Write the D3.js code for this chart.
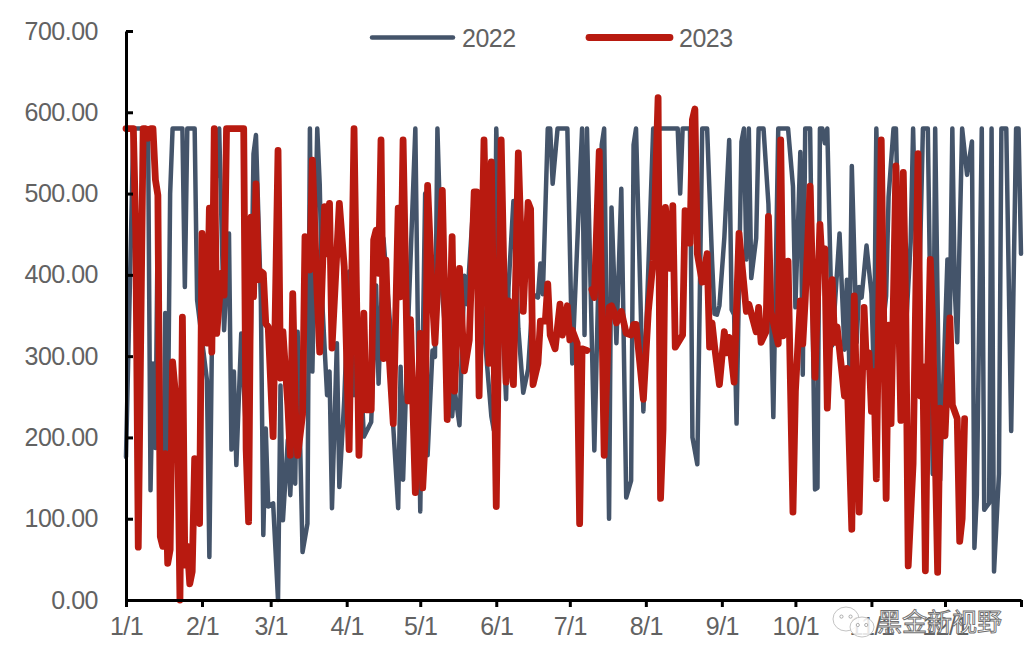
<!DOCTYPE html>
<html>
<head>
<meta charset="utf-8">
<script src="https://cdn.jsdelivr.net/npm/d3@7"></script>
<style>
  html, body { margin: 0; padding: 0; background: #fff; }
  svg { display: block; }
  text { font-family: "Liberation Sans", Arial, sans-serif; }
</style>
</head>
<body>
<div id="chart"></div>
<script>
const width = 1036;
const height = 667;
const margin = { top: 31, right: 15, bottom: 67, left: 126 };

const seriesNames = ["2022", "2023"];
const yTicks = [0, 100, 200, 300, 400, 500, 600, 700];
const xTickDays = [0, 31, 59, 90, 120, 151, 181, 212, 243, 273, 304, 334, 365];
const xTickLabels = ["1/1", "2/1", "3/1", "4/1", "5/1", "6/1", "7/1", "8/1", "9/1", "10/1", "11/1", "12/1", ""];

// days since 1/1
const days2022 = [0,2,3,9,10,11,12,13,14,15,16,17,18,19,23,24,25,28,29,33,34,35,36,38,40,42,43,44,45,47,50,52,53,55,56,57,58,60,62,63,64,66,67,68,69,70,72,74,75,76,78,79,80,82,83,84,86,87,89,91,93,95,97,100,102,103,105,108,109,111,112,113,115,118,120,122,123,125,126,127,129,133,134,136,138,139,142,146,149,150,151,153,155,156,158,160,162,164,166,168,169,170,172,173,174,176,180,182,186,187,188,191,194,195,197,198,200,202,204,206,207,208,211,215,216,219,220,225,226,227,230,231,233,235,237,239,240,241,242,244,246,247,248,249,251,252,253,254,255,257,258,260,262,263,264,266,270,272,273,275,276,277,279,281,282,283,284,285,286,288,291,293,294,295,296,298,299,300,302,304,305,306,308,310,311,313,314,316,317,320,321,323,325,327,329,330,332,335,336,337,338,339,341,343,345,346,347,349,350,352,353,354,356,357,359,361,363,364,365];
const values2022 = [176,443,580,580,135,291,187,480,82,70,353,184,500,580,580,385,580,580,369,271,53,307,492,580,332,451,185,281,166,328,139,549,572,369,80,211,115,119,0,264,98,197,129,205,143,330,59,94,580,281,580,512,369,252,281,113,316,139,246,404,252,328,201,219,387,266,445,328,213,113,287,148,334,580,109,500,178,307,299,580,376,226,259,215,399,364,502,334,226,209,580,376,247,385,491,334,255,284,376,372,414,376,580,580,512,580,580,291,580,326,580,184,560,580,100,483,316,506,126,147,560,580,232,580,580,580,580,580,500,580,580,200,167,580,580,418,352,351,362,445,566,357,351,217,564,580,419,580,396,445,580,580,487,360,225,580,580,509,360,551,277,580,580,136,138,580,580,562,580,313,451,308,394,287,534,317,385,372,436,377,274,580,317,374,496,580,580,317,274,440,580,317,580,580,155,580,147,419,347,580,381,317,580,523,564,64,130,580,111,119,580,35,155,580,580,208,580,580,426];

const days2023 = [0,2,3,4,5,7,8,9,10,11,12,13,14,15,16,17,18,19,21,22,23,24,25,26,27,28,30,31,33,34,35,36,37,39,40,41,48,49,50,51,52,53,54,55,56,57,58,60,62,63,64,66,67,68,69,70,72,73,75,76,78,79,81,82,83,84,87,89,91,93,95,97,98,100,101,102,103,104,105,106,107,109,111,112,113,115,116,118,120,121,122,123,125,126,129,131,133,134,136,138,140,142,143,144,146,148,149,151,153,155,156,158,160,162,164,165,166,168,169,171,172,173,175,177,178,180,181,182,184,185,186,188,189,190,191,193,195,197,198,199,200,202,204,206,207,208,211,213,215,217,218,219,220,222,223,224,227,228,230,231,232,233,235,237,238,239,240,242,244,245,246,248,250,253,254,257,258,259,261,262,263,266,267,268,270,272,273,275,276,277,279,281,283,284,285,286,288,289,290,293,294,296,297,299,301,302,303,304,305,306,308,310,311,312,314,316,317,318,319,321,323,324,325,326,327,328,329,331,332,334,336,337,339,340,341,342];
const values2023 = [580,580,580,451,65,580,580,568,580,580,517,498,78,66,180,45,62,293,225,0,348,43,66,20,35,174,94,451,316,482,305,580,328,402,375,580,580,185,96,471,373,512,394,404,402,340,336,201,553,273,330,240,178,377,238,178,228,447,406,541,373,305,484,426,488,310,488,410,185,580,178,353,234,234,443,455,402,566,297,418,316,217,482,373,566,245,345,132,328,138,196,510,368,316,504,222,447,257,408,282,320,502,502,251,566,291,539,115,566,268,368,265,550,355,489,481,265,291,343,343,389,326,309,364,326,362,320,332,316,94,309,307,null,382,372,552,178,360,362,355,341,355,328,326,339,339,247,355,418,618,125,209,483,408,485,311,326,479,439,591,604,426,391,426,311,341,313,265,330,304,323,268,451,355,364,330,360,317,330,472,355,315,566,325,417,108,257,368,315,370,509,274,462,406,432,236,394,317,336,251,285,87,374,108,360,287,304,232,281,149,566,125,338,217,534,221,526,360,42,168,549,251,287,36,287,419,338,34,236,202,347,240,223,72,100,223];

const svg = d3.select("#chart")
  .append("svg")
  .attr("width", width)
  .attr("height", height);

const x = d3.scaleLinear()
  .domain([0, 365])
  .range([margin.left, width - margin.right]);

const y = d3.scaleLinear()
  .domain([0, 700])
  .range([height - margin.bottom, margin.top]);

const color = d3.scaleOrdinal()
  .domain(seriesNames)
  .range(["#44546A", "#B81A10"]);

const strokeWidth = { "2022": 4.5, "2023": 6.8 };

function drawSeries(name, days, values) {
  const line = d3.line()
    .defined((d, i) => values[i] !== null)
    .x((d, i) => x(days[i]))
    .y((d, i) => y(values[i]));

  svg.append("path")
    .attr("d", line(days))
    .attr("fill", "none")
    .attr("stroke", color(name))
    .attr("stroke-width", strokeWidth[name])
    .attr("stroke-linejoin", "round")
    .attr("stroke-linecap", "round");
}

drawSeries("2022", days2022, values2022);
drawSeries("2023", days2023, values2023);

const xAxis = d3.axisBottom(x)
  .tickValues(xTickDays)
  .tickFormat((d, i) => xTickLabels[i])
  .tickSizeOuter(0)
  .tickSizeInner(7)
  .tickPadding(10);

const yAxis = d3.axisLeft(y)
  .tickValues(yTicks)
  .tickFormat(d3.format(".2f"))
  .tickSizeOuter(0)
  .tickSizeInner(-7)
  .tickPadding(28);

function styleAxis(g) {
  g.selectAll("path").attr("stroke", "#000").attr("stroke-width", 3);
  g.selectAll("line").attr("stroke", "#000").attr("stroke-width", 3);
  g.selectAll("text")
    .attr("fill", "#626262")
    .style("font-size", "25px")
    .style("letter-spacing", "-0.5px")
    .style("font-family", "'Liberation Sans', Arial, sans-serif");
}

svg.append("g")
  .attr("transform", `translate(0,${height - margin.bottom})`)
  .call(xAxis)
  .call(styleAxis);

svg.append("g")
  .attr("transform", `translate(${margin.left},0)`)
  .call(yAxis)
  .call(styleAxis);

// legend
const legendX = d3.scaleOrdinal().domain(seriesNames).range([372, 589]);
const legend = svg.selectAll(".legend-item")
  .data(seriesNames)
  .enter()
  .append("g")
  .attr("class", "legend-item")
  .attr("transform", d => `translate(${legendX(d)},37.5)`);

legend.append("line")
  .attr("x1", 0)
  .attr("x2", 81)
  .attr("stroke", d => color(d))
  .attr("stroke-width", d => strokeWidth[d])
  .attr("stroke-linecap", "round");

legend.append("text")
  .attr("x", 90)
  .attr("dy", "0.36em")
  .attr("fill", "#626262")
  .style("font-size", "25px")
  .style("letter-spacing", "-0.5px")
  .text(d => d);

// watermark, sits over the last x labels
const mark = svg.append("g");

function bubble(cx, cy, rx, ry) {
  mark.append("ellipse")
    .attr("cx", cx).attr("cy", cy).attr("rx", rx).attr("ry", ry)
    .attr("fill", "#fff").attr("fill-opacity", 0.85)
    .attr("stroke", "#c4c4c4").attr("stroke-width", 1);
  [-0.35, 0.35].forEach(k => {
    mark.append("circle")
      .attr("cx", cx + k * rx).attr("cy", cy - 0.2 * ry).attr("r", 1.6)
      .attr("fill", "#fff").attr("stroke", "#9a9a9a").attr("stroke-width", 0.8);
  });
}
bubble(846, 619, 13, 12);
bubble(862, 627, 12, 10);

mark.append("text")
  .attr("x", 877)
  .attr("y", 631)
  .attr("fill", "#fff")
  .attr("stroke", "#6e6e6e")
  .attr("stroke-width", 0.9)
  .style("font-family", "'Noto Sans CJK SC', sans-serif")
  .style("font-size", "25px")
  .text("黑金新视野");
</script>
</body>
</html>
